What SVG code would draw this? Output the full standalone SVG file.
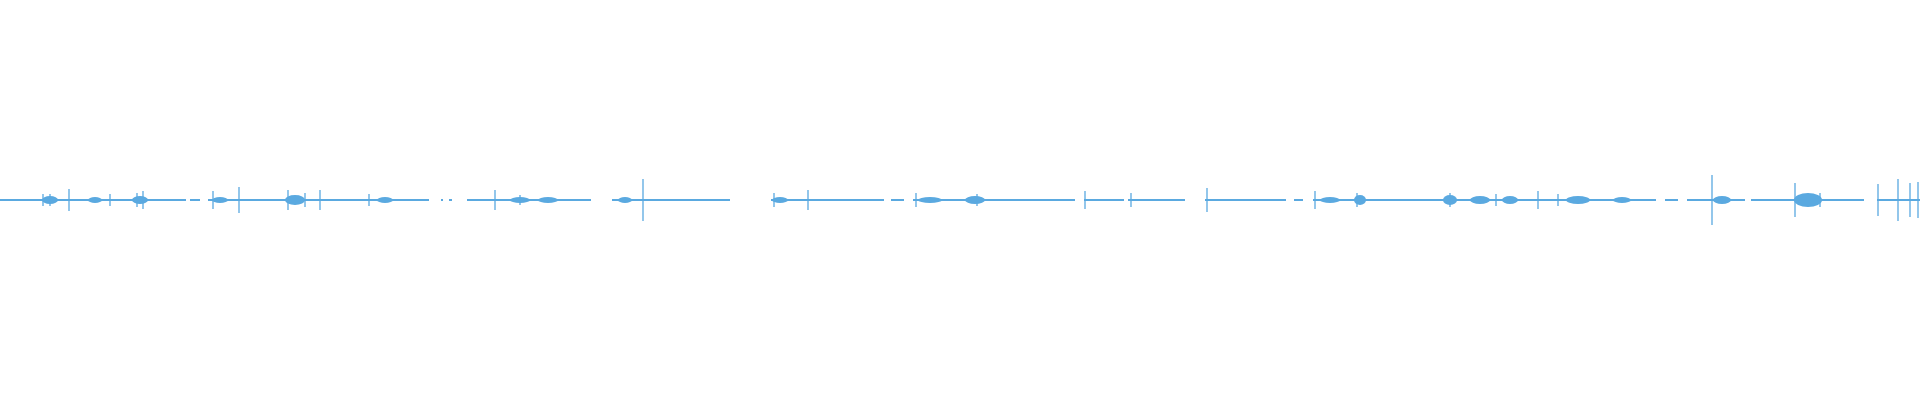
<svg xmlns="http://www.w3.org/2000/svg" width="1920" height="400" viewBox="0 0 1920 400">
<style>.b{fill:#5aa9e0}.s{stroke:#5aa9e0;stroke-width:1.3;fill:none}.e{fill:#5aa9e0}</style>
<rect width="1920" height="400" fill="#fff"/>
<g id="baseline" class="b">
<rect x="0" y="199" width="186" height="2"/><rect x="190" y="199" width="10" height="2"/><rect x="208" y="199" width="221" height="2"/><rect x="441" y="199" width="2" height="2"/><rect x="449" y="199" width="3" height="2"/><rect x="467" y="199" width="124" height="2"/><rect x="612" y="199" width="118" height="2"/><rect x="771" y="199" width="113" height="2"/><rect x="891" y="199" width="13" height="2"/><rect x="913" y="199" width="162" height="2"/><rect x="1084" y="199" width="40" height="2"/><rect x="1128" y="199" width="57" height="2"/><rect x="1205" y="199" width="81" height="2"/><rect x="1294" y="199" width="9" height="2"/><rect x="1313" y="199" width="343" height="2"/><rect x="1665" y="199" width="13" height="2"/><rect x="1687" y="199" width="58" height="2"/><rect x="1751" y="199" width="113" height="2"/><rect x="1877" y="199" width="43" height="2"/>
</g>
<g id="bursts" class="e">
<ellipse cx="50" cy="200" rx="8" ry="4"/><ellipse cx="95" cy="200" rx="7" ry="3"/><ellipse cx="140" cy="200" rx="8" ry="4"/><ellipse cx="220" cy="200" rx="8" ry="3"/><ellipse cx="295" cy="200" rx="10" ry="5"/><ellipse cx="385" cy="200" rx="8" ry="3"/><ellipse cx="520" cy="200" rx="10" ry="3"/><ellipse cx="548" cy="200" rx="10" ry="3"/><ellipse cx="625" cy="200" rx="7" ry="3"/><ellipse cx="780" cy="200" rx="8" ry="3"/><ellipse cx="930" cy="200" rx="12" ry="3"/><ellipse cx="975" cy="200" rx="10" ry="4"/><ellipse cx="1330" cy="200" rx="10" ry="3"/><ellipse cx="1360" cy="200" rx="6" ry="5"/><ellipse cx="1450" cy="200" rx="7" ry="5"/><ellipse cx="1480" cy="200" rx="10" ry="4"/><ellipse cx="1510" cy="200" rx="8" ry="4"/><ellipse cx="1578" cy="200" rx="12" ry="4"/><ellipse cx="1622" cy="200" rx="9" ry="3"/><ellipse cx="1722" cy="200" rx="9" ry="4"/><ellipse cx="1808" cy="200" rx="14" ry="7"/>
</g>
<path id="spikes" class="s" d="M43 194V206M50 194V206M69 189V211M110 194V206M137 193V207M143 191V209M213 191V209M239 187V213M288 190V210M305 193V207M320 190V210M369 194V206M495 190V210M520 195V205M643 179V221M774 193V207M808 190V210M916 193V207M977 194V206M1085 191V209M1131 193V207M1207 188V212M1315 191V209M1357 193V207M1450 193V207M1496 194V206M1538 191V209M1558 194V206M1712 175V225M1795 183V217M1820 193V207M1878 184V216M1898 179V221M1910 183V217M1918 182V218"/>
</svg>
